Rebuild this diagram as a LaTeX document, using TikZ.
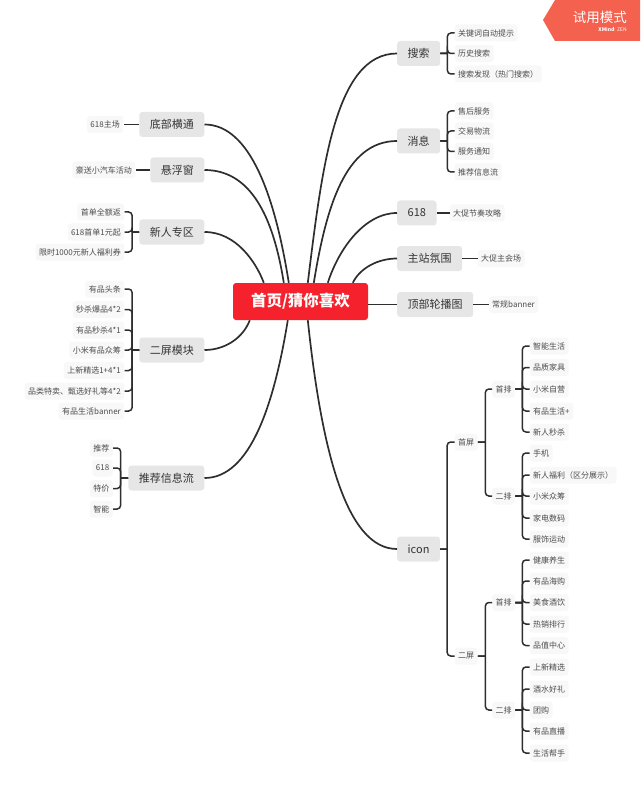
\documentclass[tikz,border=0pt]{standalone}
\usepackage{fontspec}
\setmainfont{Noto Sans CJK SC}
\usepackage{xcolor}
\usetikzlibrary{arrows.meta,calc,positioning}
\definecolor{RootRed}{RGB}{245,34,45}
\definecolor{TagOrange}{RGB}{244,97,79}
\definecolor{TopicGray}{RGB}{230,230,230}
\definecolor{LeafGray}{RGB}{248,248,248}
\definecolor{LineDark}{RGB}{46,46,46}
\tikzset{
  topic/.style={fill=TopicGray, rounded corners=3pt, minimum height=25pt, inner xsep=10.5pt, inner ysep=0pt, text=black!80, font=\fontsize{11}{13}\selectfont},
  leaf/.style={fill=LeafGray, rounded corners=3pt, minimum height=17pt, inner xsep=3.5pt, inner ysep=0pt, text=black!70, font=\fontsize{8}{10}\selectfont},
  trunk/.style={line width=1.7pt, LineDark},
  branch/.style={line width=1.5pt, LineDark, rounded corners=3.5pt}
}
\begin{document}
\begin{tikzpicture}[x=1pt,y=-1pt]
\useasboundingbox (0,0) rectangle (640,786);
% trial tag
\fill[TagOrange] (543,20) -- (555,0) -- (640,0) -- (640,41) -- (555,41) -- cycle;
\node[text=white, anchor=east, inner sep=0pt, font=\fontsize{13.5}{15}\selectfont] (tagtitle) at (627,17) {试用模式};
\node[text=white, anchor=east, inner sep=0pt, font=\fontsize{5}{6}\selectfont] (tagsub) at (627,29) {\textbf{XMind}: ZEN};

% root
\node[fill=RootRed, rounded corners=3pt, minimum width=135pt, minimum height=37pt, inner sep=0pt, text=white, font=\fontsize{15.5}{18}\selectfont\bfseries] (root) at (300.5,301.5) {\raisebox{-1pt}{首页/猜你喜欢}};

% right topics
\node[topic, anchor=west] (search) at (397,53.5) {搜索};
\node[topic, anchor=west] (msg) at (397,141) {消息};
\node[topic, anchor=west] (promo) at (397,213) {618};
\node[topic, anchor=west] (mood) at (397,258.5) {主站氛围};
\node[topic, anchor=west] (carousel) at (397,304.5) {顶部轮播图};
\node[topic, anchor=west] (icon) at (397,549) {icon};

% left topics
\node[topic, anchor=east] (tabbar) at (204.5,124.5) {底部横通};
\node[topic, anchor=east] (floatwin) at (204.5,170) {悬浮窗};
\node[topic, anchor=east] (newbie) at (204.5,232) {新人专区};
\node[topic, anchor=east] (second) at (204.5,350) {二屏模块};
\node[topic, anchor=east] (feed) at (204.5,478) {推荐信息流};

% curves from the root
\draw[trunk] ([xshift=75pt]root.north west) .. controls (322,168) and (335,53.5) .. (search.west);
\draw[trunk] ([xshift=81pt]root.north west) .. controls (326,208) and (345,141) .. (msg.west);
\draw[trunk] ([xshift=95pt]root.north west) .. controls (339,248) and (365,213) .. (promo.west);
\draw[trunk] ([xshift=120pt]root.north west) .. controls (360,268) and (378,258.5) .. (mood.west);
\draw[trunk] (root.east |- carousel.west) -- (carousel.west);
\draw[trunk] ([xshift=75pt]root.south west) .. controls (321,445) and (345,549) .. (icon.west);
\draw[trunk] ([xshift=56pt]root.north west) .. controls (275,196) and (250,124.5) .. (tabbar.east);
\draw[trunk] ([xshift=51pt]root.north west) .. controls (273,215) and (250,170) .. (floatwin.east);
\draw[trunk] ([xshift=31pt]root.north west) .. controls (256,262) and (236,232) .. (newbie.east);
\draw[trunk] ([xshift=17pt]root.south west) .. controls (243,338) and (225,350) .. (second.east);
\draw[trunk] ([xshift=55pt]root.south west) .. controls (274,405) and (250,478) .. (feed.east);

% single leaves
\node[leaf, anchor=west] (promoa) at (449.5,213) {大促节奏攻略};
\node[leaf, anchor=west] (mooda) at (477.5,258.5) {大促主会场};
\node[leaf, anchor=west] (carousela) at (488.5,304.5) {常规banner};
\node[leaf, anchor=east] (tabbara) at (123.5,124.5) {618主场};
\node[leaf, anchor=east] (floatwina) at (135.5,170) {豪送小汽车活动};
\draw[branch] (promo.east) -- (promoa.west);
\draw[branch] (mood.east) -- (mooda.west);
\draw[branch] (carousel.east) -- (carousela.west);
\draw[branch] (tabbar.west) -- (tabbara.east);
\draw[branch] (floatwin.west) -- (floatwina.east);

% right side brackets
\foreach \name/\ypos/\txt in {sa/33/关键词自动提示,sb/53.5/历史搜索,sc/74/搜索发现（热门搜索）}{
  \node[leaf, anchor=west] (\name) at (454.5,\ypos) {\txt};
  \draw[branch] (search.east) -- ++(7,0) coordinate (j) (j) |- (\name.west);
}
\foreach \name/\ypos/\txt in {ma/111/售后服务,mb/131/交易物流,mc/151.5/服务通知,md/172/推荐信息流}{
  \node[leaf, anchor=west] (\name) at (454.5,\ypos) {\txt};
  \draw[branch] (msg.east) -- ++(7,0) coordinate (j) (j) |- (\name.west);
}

% left side brackets
\foreach \name/\ypos/\txt in {na/212/首单全额返,nb/232/618首单1元起,nc/252/限时1000元新人福利券}{
  \node[leaf, anchor=east] (\name) at (124.5,\ypos) {\txt};
  \draw[branch] (newbie.west) -- ++(-7,0) coordinate (j) (j) |- (\name.east);
}
\foreach \name/\ypos/\txt in {ea/289/有品头条,eb/309.5/秒杀爆品4*2,ec/330/有品秒杀4*1,ed/350/小米有品众筹,ee/370.5/上新精选1+4*1,ef/391/品类特卖、甄选好礼等4*2,eg/411/有品生活banner}{
  \node[leaf, anchor=east] (\name) at (124.5,\ypos) {\txt};
  \draw[branch] (second.west) -- ++(-7,0) coordinate (j) (j) |- (\name.east);
}
\foreach \name/\ypos/\txt in {fa/448/推荐,fb/468/618,fc/488.5/特价,fd/509/智能}{
  \node[leaf, anchor=east] (\name) at (113,\ypos) {\txt};
  \draw[branch] (feed.west) -- ++(-7.5,0) coordinate (j) (j) |- (\name.east);
}

% icon tree
\foreach \name/\ypos/\txt in {pa/442/首屏,pb/656/二屏}{
  \node[leaf, anchor=west] (\name) at (454.5,\ypos) {\txt};
  \draw[branch] (icon.east) -- ++(7,0) coordinate (j) (j) |- (\name.west);
}
\foreach \name/\up/\ypos/\txt in {paa/pa/389/首排,pab/pa/496/二排,pba/pb/602.5/首排,pbb/pb/710/二排}{
  \node[leaf, anchor=west] (\name) at (492,\ypos) {\txt};
  \draw[branch] (\up.east) -- ++(7.5,0) coordinate (j) (j) |- (\name.west);
}
\foreach \name/\up/\ypos/\txt in {
  l1/paa/346/智能生活,l2/paa/367.5/品质家具,l3/paa/389/小米自营,l4/paa/411/有品生活+,l5/paa/432/新人秒杀,
  l6/pab/453/手机,l7/pab/475/新人福利（区分展示）,l8/pab/496/小米众筹,l9/pab/518/家电数码,l10/pab/539/服饰运动,
  l11/pba/560/健康养生,l12/pba/581/有品海购,l13/pba/602.5/美食酒饮,l14/pba/624/热销排行,l15/pba/645.5/品值中心,
  l16/pbb/667/上新精选,l17/pbb/689/酒水好礼,l18/pbb/710/团购,l19/pbb/731/有品直播,l20/pbb/753/生活帮手}{
  \node[leaf, anchor=west] (\name) at (529.5,\ypos) {\txt};
  \draw[branch] (\up.east) -- ++(7,0) coordinate (j) (j) |- (\name.west);
}
\end{tikzpicture}
\end{document}
